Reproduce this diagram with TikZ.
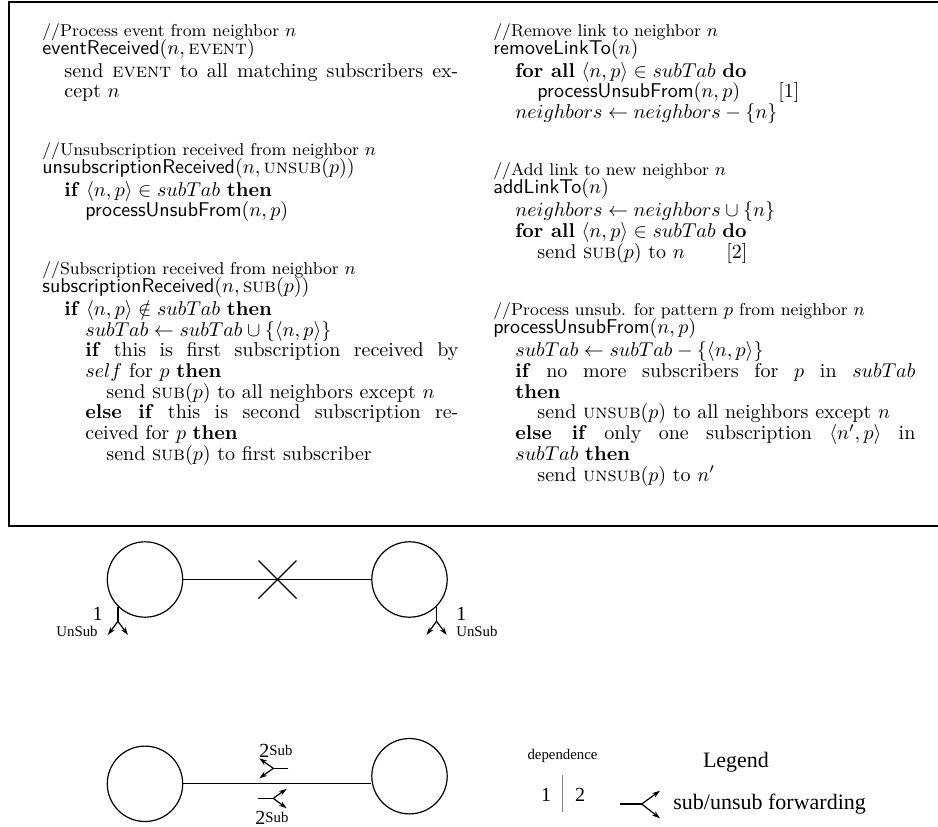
\documentclass[tikz,border=0pt]{standalone}
\usepackage{fontspec}
\newfontfamily\tms{Liberation Serif}
\usetikzlibrary{arrows.meta}
\tikzset{
  alg/.style={anchor=base west, inner sep=0pt, text height=7pt, text depth=1.5pt, font=\fontsize{10}{12}\selectfont},
  cmt/.style={anchor=base west, inner sep=0pt, text height=6pt, text depth=1pt, font=\fontsize{8.6}{10}\selectfont},
  circ/.style={circle, draw, line width=0.6pt, minimum size=37.7pt, inner sep=0pt},
  lnk/.style={line width=0.6pt},
  fwd/.style={line width=0.6pt, -{Stealth[length=4pt,width=2.6pt]}},
  tlab/.style={font=\tms\fontsize{10}{12}\selectfont, inner sep=0pt},
  slab/.style={font=\tms\fontsize{7.4}{9}\selectfont, inner sep=0pt},
  lgd/.style={font=\tms\fontsize{11}{13}\selectfont, inner sep=0pt},
  frame/.style={line width=0.7pt}
}
\begin{document}
\begin{tikzpicture}[x=0.5pt,y=-0.5pt]
\useasboundingbox (0,0) rectangle (938,826);
% frame
\draw[frame] (938,2) -- (9,2) -- (9,526) -- (938,526);
% left column
\node[cmt] (L1) at (42,36) {//Process event from neighbor $n$};
\node[alg] (L2) at (42,54) {\textsf{eventReceived}$(n,\textsc{event})$};
\node[alg] (L3) at (64,77) {\hbox to 197pt{send \textsc{event} to all matching subscribers ex-}};
\node[alg] (L4) at (64,97.7) {cept $n$};
\node[cmt] (L5) at (42,155.2) {//Unsubscription received from neighbor $n$};
\node[alg] (L6) at (42,173.2) {\textsf{unsubscriptionReceived}$(n,\textsc{unsub}(p))$};
\node[alg] (L7) at (64,196.2) {\textbf{if} $\langle n,p\rangle\in subTab$ \textbf{then}};
\node[alg] (L8) at (85,216.9) {\textsf{processUnsubFrom}$(n,p)$};
\node[cmt] (L9) at (42,274.4) {//Subscription received from neighbor $n$};
\node[alg] (L10) at (42,292.4) {\textsf{subscriptionReceived}$(n,\textsc{sub}(p))$};
\node[alg] (L11) at (64,315.4) {\textbf{if} $\langle n,p\rangle\notin subTab$ \textbf{then}};
\node[alg] (L12) at (85,336.1) {$subTab\leftarrow subTab\cup\{\langle n,p\rangle\}$};
\node[alg] (L13) at (85,356.8) {\hbox to 186.5pt{\textbf{if} this is first subscription received by}};
\node[alg] (L14) at (85,377.5) {$self$ for $p$ \textbf{then}};
\node[alg] (L15) at (106,398.2) {send \textsc{sub}$(p)$ to all neighbors except $n$};
\node[alg] (L16) at (85,418.9) {\hbox to 186.5pt{\textbf{else if} this is second subscription re-}};
\node[alg] (L17) at (85,439.6) {ceived for $p$ \textbf{then}};
\node[alg] (L18) at (106,460.3) {send \textsc{sub}$(p)$ to first subscriber};
% right column
\node[cmt] (R1) at (493,36) {//Remove link to neighbor $n$};
\node[alg] (R2) at (493,54) {\textsf{removeLinkTo}$(n)$};
\node[alg] (R3) at (515,77) {\textbf{for all} $\langle n,p\rangle\in subTab$ \textbf{do}};
\node[alg] (R4) at (537,97.7) {\textsf{processUnsubFrom}$(n,p)$};
\node[alg] (R4n) at (778,97.7) {[1]};
\node[alg] (R5) at (515,118.4) {$neighbors\leftarrow neighbors-\{n\}$};
\node[cmt] (R6) at (493,175.9) {//Add link to new neighbor $n$};
\node[alg] (R7) at (493,193.9) {\textsf{addLinkTo}$(n)$};
\node[alg] (R8) at (515,216.9) {$neighbors\leftarrow neighbors\cup\{n\}$};
\node[alg] (R9) at (515,237.6) {\textbf{for all} $\langle n,p\rangle\in subTab$ \textbf{do}};
\node[alg] (R10) at (537,258.3) {send \textsc{sub}$(p)$ to $n$};
\node[alg] (R10n) at (726,258.3) {[2]};
\node[cmt] (R11) at (493,315.8) {//Process unsub. for pattern $p$ from neighbor $n$};
\node[alg] (R12) at (493,333.8) {\textsf{processUnsubFrom}$(n,p)$};
\node[alg] (R13) at (515,356.8) {$subTab\leftarrow subTab-\{\langle n,p\rangle\}$};
\node[alg] (R14) at (515,377.5) {\hbox to 200pt{\textbf{if} no more subscribers for $p$ in $subTab$}};
\node[alg] (R15) at (515,398.2) {\textbf{then}};
\node[alg] (R16) at (537,418.9) {send \textsc{unsub}$(p)$ to all neighbors except $n$};
\node[alg] (R17) at (515,439.6) {\hbox to 200pt{\textbf{else if} only one subscription $\langle n',p\rangle$ in}};
\node[alg] (R18) at (515,460.3) {$subTab$ \textbf{then}};
\node[alg] (R19) at (537,481) {send \textsc{unsub}$(p)$ to $n'$};
% top figure
\node[circ] (A1) at (145,579.5) {};
\node[circ] (A2) at (409.5,579.5) {};
\draw[lnk] (A1) -- (A2);
\coordinate (X) at (277.5,579.5);
\draw[lnk] (X) ++(-19,-19) -- ++(38,38);
\draw[lnk] (X) ++(-19,19) -- ++(38,-38);
\draw[lnk] (A1.-135) -- ++(0,14.7) coordinate (F1);
\draw[fwd] (F1) -- ++(-10,13.6);
\draw[fwd] (F1) -- ++(10,13.6);
\draw[lnk] (A2.-45) -- ++(0,14.7) coordinate (F2);
\draw[fwd] (F2) -- ++(-10,13.6);
\draw[fwd] (F2) -- ++(10,13.6);
\node[tlab, anchor=base] (n1a) at (97.5,620.5) {1};
\node[slab, anchor=base east] (u1a) at (98,636) {UnSub};
\node[tlab, anchor=base west] (n1b) at (456,620.5) {1};
\node[slab, anchor=base west] (u1b) at (456,636) {UnSub};
% bottom figure
\node[circ] (B1) at (145,783.8) {};
\node[circ] (B2) at (409.5,776.2) {};
\draw[lnk] (B1.east) -- (B1.east -| B2.west);
\coordinate (G1) at (288.3,768.3);
\draw[lnk] (G1) -- ++(-15,0) coordinate (G1f);
\draw[fwd] (G1f) -- ++(-14,-10);
\draw[fwd] (G1f) -- ++(-14,10);
\coordinate (G2) at (258.3,798.3);
\draw[lnk] (G2) -- ++(15,0) coordinate (G2f);
\draw[fwd] (G2f) -- ++(13.4,-9.5);
\draw[fwd] (G2f) -- ++(13.4,10);
\node[tlab, anchor=base west] (two1) at (259,757) {2};
\node[slab, anchor=base west] (sub1) at (269,755) {Sub};
\node[tlab, anchor=base west] (two2) at (255,824) {2};
\node[slab, anchor=base west] (sub2) at (265,822) {Sub};
% legend
\node[slab, anchor=base] (dep) at (562.5,759) {dependence};
\node[tlab, anchor=base] (d1) at (546,801.5) {1};
\node[tlab, anchor=base] (d2) at (580,801.5) {2};
\draw[gray, line width=0.75pt] (562.7,775) -- (562.7,811.7);
\node[lgd, anchor=base] (leg) at (736,767) {Legend};
\coordinate (H) at (620,804);
\draw[lnk] (H) -- ++(21.7,0) coordinate (Hf);
\draw[fwd] (Hf) -- ++(18.3,-13.3);
\draw[fwd] (Hf) -- ++(18.3,14.3);
\node[lgd, anchor=base west] (fw) at (673,809) {sub/unsub forwarding};
\end{tikzpicture}
\end{document}
